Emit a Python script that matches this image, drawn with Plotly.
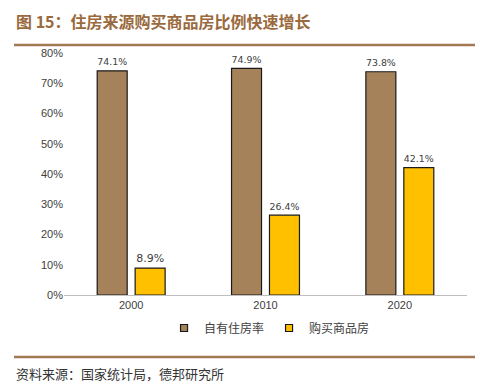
import plotly.graph_objects as go

categories = ["2000", "2010", "2020"]
own_rate = [0.741, 0.749, 0.738]
buy_commercial = [0.089, 0.264, 0.421]
series_names = ["自有住房率", "购买商品房"]
y_ticks = [0, 0.1, 0.2, 0.3, 0.4, 0.5, 0.6, 0.7, 0.8]
y_tick_labels = ["0%", "10%", "20%", "30%", "40%", "50%", "60%", "70%", "80%"]

brown = "#A6825A"
yellow = "#FFC000"
title_color = "#9A6A3E"
line_color = "#A47A55"
text_color = "#404040"

fig = go.Figure()
for name, vals, col in [(series_names[0], own_rate, brown), (series_names[1], buy_commercial, yellow)]:
    fig.add_trace(go.Bar(
        x=categories, y=vals, name=name, showlegend=False,
        marker=dict(color=col, line=dict(color="#1a1a1a", width=1.2)),
        text=[f"{v*100:.1f}%" for v in vals], textposition="outside",
        textfont=dict(family="DejaVu Sans, Arial", size=11, color=text_color),
        cliponaxis=False, hoverinfo="skip",
    ))
    fig.add_trace(go.Scatter(
        x=[None], y=[None], mode="markers", name=name, showlegend=True,
        marker=dict(symbol="square", size=7, color=col, line=dict(color="#1a1a1a", width=1.2)),
    ))

fig.update_layout(
    width=487, height=387,
    margin=dict(l=64, r=20, t=53, b=92, autoexpand=False),
    paper_bgcolor="white", plot_bgcolor="white",
    barmode="group", bargap=0.435, bargroupgap=0.21,
    font=dict(family="Liberation Sans, Arial", size=11, color=text_color),
    showlegend=True,
    legend=dict(orientation="h", x=0.51, xanchor="center", y=-(328-295)/242, yanchor="middle",
                font=dict(family="Noto Sans CJK SC", size=12, color=text_color),
                itemwidth=30, traceorder="normal", itemsizing="trace"),
    xaxis=dict(showline=True, linecolor="#BFBFBF", linewidth=1, ticks="",
               tickfont=dict(size=11, color=text_color), showgrid=False),
    yaxis=dict(range=[0, 0.8], tickvals=y_ticks, ticktext=y_tick_labels,
               showgrid=False, showline=False, ticks="", zeroline=False,
               tickfont=dict(size=11, color=text_color)),
)

fig.add_annotation(text="<b>图 15：住房来源购买商品房比例快速增长</b>", xref="paper", yref="paper",
                   x=-50/403, y=1 + (53-21)/242, xanchor="left", yanchor="middle", showarrow=False,
                   font=dict(family="Noto Sans CJK SC", size=16, color=title_color))
fig.add_shape(type="line", xref="paper", yref="paper", x0=-50/403, x1=(475-64)/403,
              y0=1 + (53-45)/242, y1=1 + (53-45)/242, line=dict(color=line_color, width=2.5))
fig.add_shape(type="line", xref="paper", yref="paper", x0=-50/403, x1=(475-64)/403,
              y0=-(357-295)/242, y1=-(357-295)/242, line=dict(color=line_color, width=2.5))
fig.add_annotation(text="资料来源：国家统计局，德邦研究所", xref="paper", yref="paper",
                   x=-50/403, y=-(373-295)/242, xanchor="left", yanchor="middle", showarrow=False,
                   font=dict(family="Noto Sans CJK SC", size=13, color="#333333"))

fig.write_html("out.html", config={"displayModeBar": False},
               post_script="document.body.style.margin='0';document.body.style.overflow='hidden';")
